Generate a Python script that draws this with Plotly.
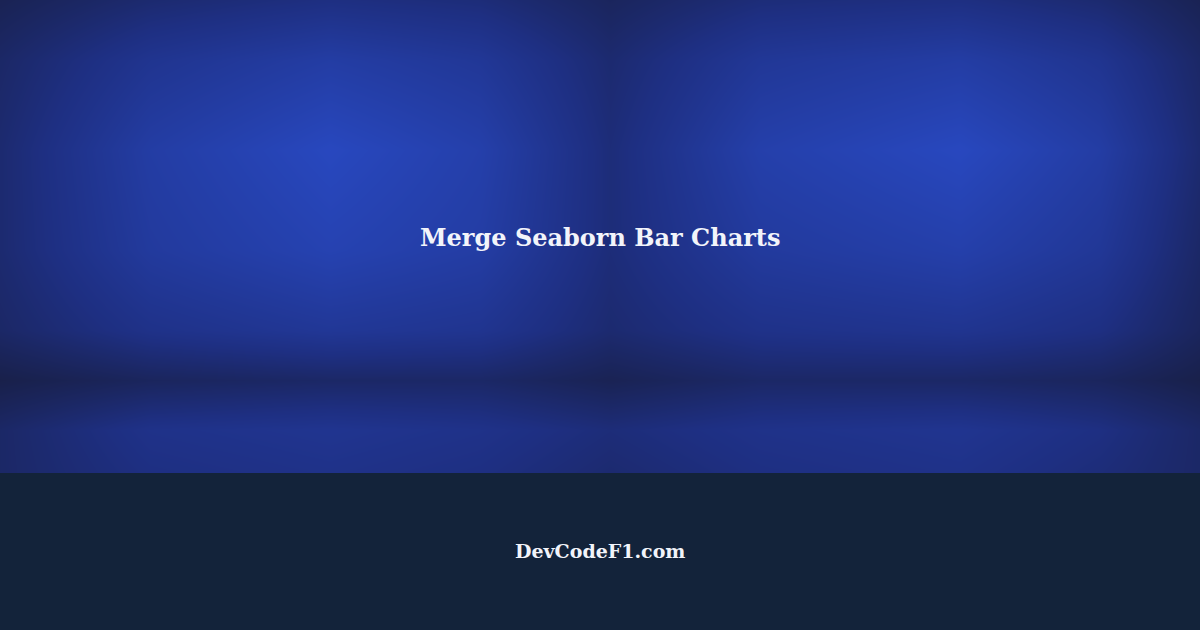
import plotly.graph_objects as go

# coarse brightness grid of the blue backdrop (0 dark .. 1 bright)
grid_x = [0, 150, 330, 480, 610, 760, 960, 1100, 1200]
grid_y = [0, 60, 150, 250, 330, 380, 430, 473]
brightness = [
    [0.20, 0.35, 0.45, 0.40, 0.25, 0.40, 0.45, 0.35, 0.20],
    [0.30, 0.55, 0.70, 0.60, 0.35, 0.60, 0.70, 0.55, 0.30],
    [0.35, 0.70, 0.90, 0.75, 0.40, 0.75, 0.90, 0.70, 0.35],
    [0.35, 0.65, 0.80, 0.70, 0.40, 0.65, 0.75, 0.60, 0.30],
    [0.30, 0.50, 0.60, 0.55, 0.35, 0.50, 0.55, 0.45, 0.25],
    [0.15, 0.25, 0.30, 0.30, 0.20, 0.30, 0.30, 0.25, 0.15],
    [0.30, 0.50, 0.55, 0.50, 0.40, 0.50, 0.55, 0.45, 0.30],
    [0.30, 0.45, 0.50, 0.45, 0.35, 0.45, 0.50, 0.40, 0.30],
]

title = "Merge Seaborn Bar Charts"
site = "DevCodeF1.com"

fig = go.Figure()
fig.add_trace(go.Heatmap(
    x=grid_x, y=grid_y, z=brightness,
    zsmooth="best", zmin=0, zmax=1, showscale=False, hoverinfo="skip",
    colorscale=[[0, "#16192f"], [0.45, "#1e2f82"], [1, "#2a4dcc"]],
))

# dark footer band
fig.add_shape(type="rect", xref="paper", yref="y", x0=0, x1=1, y0=473, y1=630,
              fillcolor="#13233a", line_width=0, layer="above")

fig.add_annotation(x=600, y=237, text="<b>" + title + "</b>", showarrow=False,
                   font=dict(family="DejaVu Serif", size=24, color="#f2f4fa"))
fig.add_annotation(x=600, y=551, text="<b>" + site + "</b>", showarrow=False,
                   font=dict(family="DejaVu Serif", size=19, color="#f2f4fa"))

fig.update_layout(
    width=1200, height=630, margin=dict(l=0, r=0, t=0, b=0),
    paper_bgcolor="#13233a", plot_bgcolor="#13233a",
    xaxis=dict(range=[0, 1200], visible=False, fixedrange=True),
    yaxis=dict(range=[630, 0], visible=False, fixedrange=True),
    showlegend=False,
)

# drop the page's default body margin so the banner fills the window
fig.write_html("out.html", config={"displayModeBar": False},
               post_script="document.body.style.margin='0';document.body.style.overflow='hidden';")
